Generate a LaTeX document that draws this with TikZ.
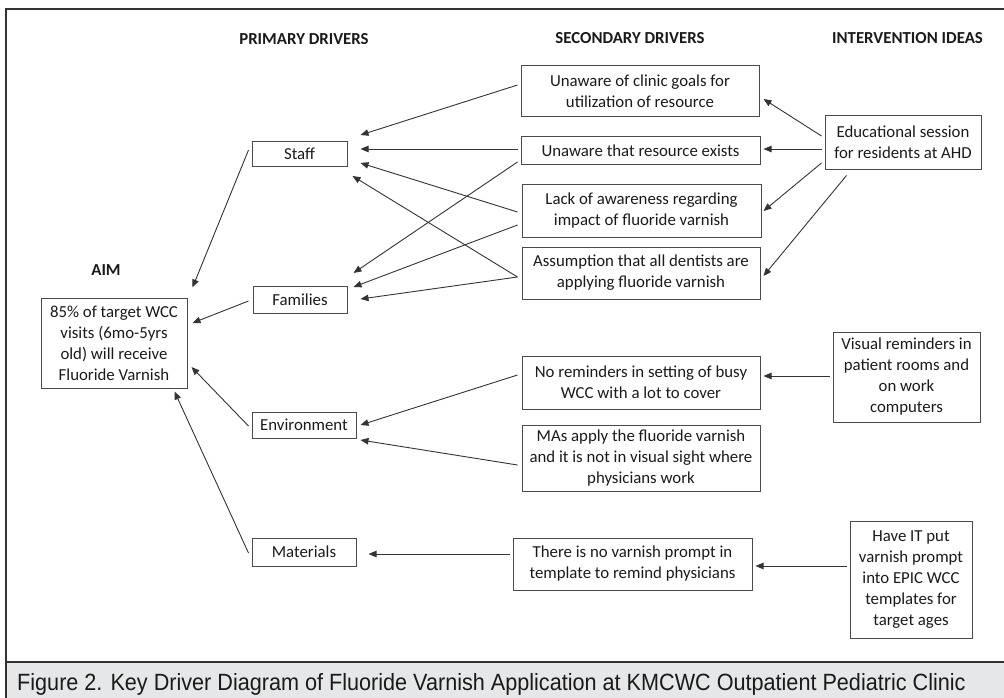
\documentclass[tikz,border=0pt]{standalone}
\usepackage{fontspec}
\setmainfont{Carlito}
\newfontfamily\capfont{Liberation Sans}
\usetikzlibrary{arrows.meta}
\definecolor{linegray}{HTML}{333333}
\definecolor{boxgray}{HTML}{4A4A4A}
\definecolor{txtgray}{HTML}{1A1A1A}
\definecolor{capband}{HTML}{E6E7E8}
\tikzset{
  bx/.style={draw=boxgray, line width=1pt, inner sep=0pt, align=center, text=txtgray,
    font=\fontsize{16.8}{21}\selectfont},
  sz/.style 2 args={minimum width=#1pt, minimum height=#2pt},
  hdr/.style={inner sep=0pt, text=txtgray, font=\fontsize{16.8}{21}\selectfont\bfseries},
  arr/.style={draw=linegray, line width=0.9pt, -{Triangle[length=8pt,width=6.5pt]}},
}
\begin{document}
\begin{tikzpicture}[x=1pt,y=-1pt]
\useasboundingbox (0,0) rectangle (1004,698);
% caption band and frame
\fill[capband] (6,662) rectangle (1004,698);
\draw[linegray, line width=2.6pt] (6,698) -- (6,9) -- (1004,9);
\draw[linegray, line width=2.6pt] (6,662) -- (1004,662);
\node[anchor=base west, inner sep=0pt, text=txtgray] (cap) at (17,690)
  {\scalebox{0.92}[1]{\capfont\fontsize{23.5}{28}\selectfont Figure 2. Key Driver Diagram of Fluoride Varnish Application at KMCWC Outpatient Pediatric Clinic}};
% headers
\node[hdr] (haim) at (106,270) {AIM};
\node[hdr] (hpri) at (304,39) {PRIMARY DRIVERS};
\node[hdr] (hsec) at (630,38) {SECONDARY DRIVERS};
\node[hdr] (hint) at (907.5,38) {INTERVENTION IDEAS};
% aim
\node[bx, sz={146}{90}] (aim) at (114,343) {85\% of target WCC\\visits (6mo-5yrs\\old) will receive\\Fluoride Varnish};
% primary drivers
\node[bx, sz={95}{25}] (staff) at (299.5,154) {Staff};
\node[bx, sz={94}{27}] (fam) at (300,299.5) {Families};
\node[bx, sz={104}{26}] (env) at (304,425) {Environment};
\node[bx, sz={104}{28}] (mat) at (304,552) {Materials};
% secondary drivers
\node[bx, sz={238}{51}] (s1) at (640,91.5) {Unaware of clinic goals for\\utilization of resource};
\node[bx, sz={239}{28}] (s2) at (640.5,151) {Unaware that resource exists};
\node[bx, sz={239}{53}] (s3) at (641.5,210.5) {Lack of awareness regarding\\impact of fluoride varnish};
\node[bx, sz={238}{52}] (s4) at (641,273) {Assumption that all dentists are\\applying fluoride varnish};
\node[bx, sz={238}{53}] (s5) at (641,382.5) {No reminders in setting of busy\\WCC with a lot to cover};
\node[bx, sz={238}{66}] (s6) at (641,458) {MAs apply the fluoride varnish\\and it is not in visual sight where\\physicians work};
\node[bx, sz={239}{52}] (s7) at (632.5,564) {There is no varnish prompt in\\template to remind physicians};
% interventions
\node[bx, sz={156}{53}] (i1) at (903,142.5) {Educational session\\for residents at AHD};
\node[bx, sz={147}{90}] (i2) at (906.5,377) {Visual reminders in\\patient rooms and\\on work\\computers};
\node[bx, sz={122}{117}] (i3) at (911,579.5) {Have IT put\\varnish prompt\\into EPIC WCC\\templates for\\target ages};
% secondary -> primary
\draw[arr] ([shift={(-3,-6.5)}]s1.west) -- ([shift={(13,-19)}]staff.east);
\draw[arr] ([shift={(-3,-2)}]s2.west) -- ([shift={(13,-5)}]staff.east);
\draw[arr] ([shift={(-4,1.5)}]s3.west) -- ([shift={(13,9)}]staff.east);
\draw[arr] ([shift={(-4,4)}]s4.west) -- ([shift={(5,22)}]staff.east);
\draw[arr] ([shift={(-3,11)}]s2.west) -- ([shift={(6,-26.5)}]fam.east);
\draw[arr] ([shift={(-4,14.5)}]s3.west) -- ([shift={(6,-12.5)}]fam.east);
\draw[arr] ([shift={(-4,4)}]s4.west) -- ([shift={(13,-0.5)}]fam.east);
\draw[arr] ([shift={(-4,-7.5)}]s5.west) -- ([shift={(4,0)}]env.east);
\draw[arr] ([shift={(-4,7)}]s6.west) -- ([shift={(4,15)}]env.east);
\draw[arr] ([shift={(-3,-10)}]s7.west) -- ([shift={(12,2)}]mat.east);
% primary -> aim
\draw[arr] ([shift={(-3,-4)}]staff.west) -- ([shift={(5,-10)}]aim.north east);
\draw[arr] ([shift={(-4,1.5)}]fam.west) -- ([shift={(5,-20)}]aim.east);
\draw[arr] ([shift={(-3,1)}]env.west) -- ([shift={(4,24)}]aim.east);
\draw[arr] ([shift={(-3,1)}]mat.west) -- ([shift={(-13,3)}]aim.south east);
% interventions -> secondary
\draw[arr] ([shift={(-3,-6.5)}]i1.west) -- ([shift={(4,7.5)}]s1.east);
\draw[arr] ([shift={(-3,6.5)}]i1.west) -- ([shift={(3,-2)}]s2.east);
\draw[arr] ([shift={(-3,20.5)}]i1.west) -- ([shift={(2,0.5)}]s3.east);
\draw[arr] ([shift={(22,6)}]i1.south west) -- ([shift={(3,3)}]s4.east);
\draw[arr] ([shift={(-3,-1)}]i2.west) -- ([shift={(3,-6.5)}]s5.east);
\draw[arr] ([shift={(-3,-13.5)}]i3.west) -- ([shift={(3,2)}]s7.east);
\end{tikzpicture}
\end{document}
